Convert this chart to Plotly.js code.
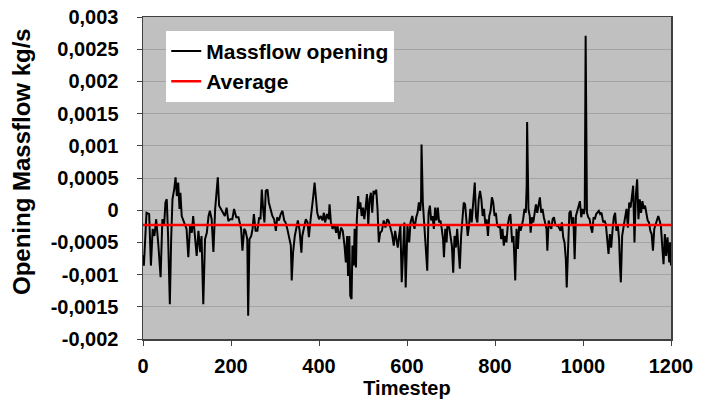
<!DOCTYPE html>
<html>
<head>
<meta charset="utf-8">
<script src="https://cdn.plot.ly/plotly-3.0.1.min.js"></script>
<style>
  html, body { margin: 0; padding: 0; background: #ffffff; }
  #chart { width: 712px; height: 402px; }
</style>
</head>
<body>
<div id="chart"></div>
<script>
// Timestep of each vertex
const timesteps = [
  0, 2, 8, 14, 18, 22, 26, 30, 35, 40, 44, 48, 51, 54, 57, 61, 64, 67, 71, 74,
  77, 80, 83, 85, 88, 92, 96, 99, 103, 107, 111, 114, 118, 122, 126, 130, 133, 137, 141, 145,
  149, 152, 156, 160, 164, 167, 170, 173, 177, 183, 186, 190, 194, 198, 203, 207, 212, 217, 220, 223,
  226, 230, 233, 237, 239, 242, 246, 249, 252, 256, 260, 264, 267, 270, 273, 276, 279, 283, 286, 290,
  294, 298, 302, 305, 309, 313, 317, 321, 324, 328, 332, 336, 338, 341, 345, 349, 352, 356, 360, 362,
  366, 370, 374, 377, 381, 385, 387, 390, 393, 396, 400, 404, 408, 411, 414, 418, 422, 424, 427, 431,
  435, 439, 442, 446, 450, 454, 458, 461, 464, 466, 469, 471, 474, 476, 479, 481, 484, 486, 489, 491,
  494, 497, 500, 503, 506, 509, 512, 515, 518, 521, 524, 528, 530, 533, 536, 539, 543, 547, 551, 555,
  558, 562, 566, 570, 573, 576, 579, 582, 585, 588, 591, 594, 597, 601, 605, 608, 612, 617, 621, 624,
  627, 630, 632, 633, 636, 639, 642, 646, 649, 652, 655, 658, 661, 664, 667, 670, 673, 676, 679, 682,
  684, 687, 690, 692, 696, 699, 702, 705, 708, 711, 714, 717, 720, 723, 726, 729, 732, 735, 738, 741,
  744, 747, 750, 754, 757, 760, 763, 766, 769, 772, 775, 778, 781, 784, 787, 790, 793, 796, 799, 802,
  805, 809, 811, 814, 817, 820, 823, 826, 829, 832, 835, 837, 839, 842, 846, 849, 852, 855, 858, 861,
  864, 867, 870, 872, 873, 876, 879, 881, 884, 887, 890, 893, 896, 899, 902, 905, 908, 911, 914, 917,
  919, 922, 925, 928, 931, 934, 937, 940, 943, 946, 949, 952, 955, 958, 961, 963, 966, 969, 972, 975,
  978, 981, 984, 987, 990, 993, 996, 999, 1002, 1004, 1006, 1007, 1009, 1012, 1015, 1018, 1021, 1024, 1027, 1030,
  1033, 1036, 1039, 1042, 1046, 1049, 1052, 1055, 1058, 1061, 1064, 1067, 1070, 1073, 1076, 1079, 1082, 1084, 1086, 1089,
  1092, 1095, 1099, 1102, 1105, 1108, 1111, 1114, 1117, 1120, 1123, 1126, 1129, 1132, 1135, 1138, 1141, 1144, 1147, 1150,
  1153, 1156, 1159, 1162, 1165, 1168, 1171, 1174, 1177, 1180, 1183, 1186, 1189, 1192, 1196, 1198, 1200
];

// Massflow opening (kg/s) at each vertex
const massflow = [
  -0.00070, -0.00086, -0.00004, -0.00006, -0.00086, -0.00029, -0.00040, -0.00014, -0.00055, -0.00104,
  -0.00014, -0.00024, 0.00012, 0.00017, -0.00040, -0.00146, -0.00045, 0.00017, 0.00033, 0.00051,
  0.00022, 0.00043, 0.00002, 0.00027, -0.00009, -0.00017, -0.00024, -0.00029, -0.00073, -0.00024,
  -0.00035, -0.00009, -0.00040, -0.00071, -0.00032, -0.00065, -0.00040, -0.00146, -0.00045, -0.00035,
  -0.00009, -0.00001, -0.00014, -0.00065, 0.00002, 0.00027, 0.00051, 0.00007, 0.00002, -0.00006,
  -0.00009, 0.00004, -0.00017, -0.00014, -0.00014, 0.00002, -0.00011, -0.00011, -0.00022, -0.00029,
  -0.00063, -0.00029, -0.00032, -0.00045, -0.00164, -0.00045, -0.00040, -0.00029, -0.00006, -0.00032,
  -0.00032, -0.00011, -0.00014, 0.00032, 0.00002, -0.00019, 0.00030, 0.00032, 0.00012, 0.00002,
  -0.00009, -0.00014, -0.00032, -0.00011, -0.00016, -0.00006, -0.00001, -0.00016, -0.00019, -0.00029,
  -0.00040, -0.00055, -0.00109, -0.00066, -0.00040, -0.00024, -0.00016, -0.00032, -0.00066, -0.00040,
  -0.00024, -0.00014, -0.00019, -0.00042, -0.00014, 0.00007, 0.00022, 0.00043, 0.00012, -0.00004,
  -0.00014, -0.00009, -0.00016, -0.00004, -0.00019, -0.00006, -0.00014, 0.00009, -0.00019, -0.00029,
  -0.00022, -0.00035, -0.00024, -0.00045, -0.00027, -0.00032, -0.00055, -0.00081, -0.00040, -0.00102,
  -0.00040, -0.00133, -0.00138, -0.00055, -0.00086, -0.00029, -0.00089, -0.00014, 0.00022, 0.00002,
  0.00012, -0.00009, 0.00004, -0.00014, 0.00004, 0.00025, -0.00022, 0.00017, 0.00027, -0.00004,
  0.00030, 0.00025, 0.00032, 0.00002, -0.00050, -0.00035, -0.00032, -0.00016, -0.00027, -0.00014,
  -0.00016, -0.00027, -0.00037, -0.00055, -0.00032, -0.00045, -0.00058, -0.00040, -0.00024, -0.00112,
  -0.00050, -0.00019, -0.00120, -0.00024, -0.00050, -0.00019, -0.00009, -0.00029, -0.00011, -0.00004,
  0.00012, -0.00001, 0.00017, 0.00102, 0.00012, -0.00019, -0.00040, -0.00094, -0.00004, 0.00007,
  -0.00016, -0.00009, -0.00029, 0.00004, -0.00016, 0.00004, -0.00019, -0.00016, -0.00029, -0.00045,
  -0.00073, -0.00029, -0.00050, -0.00022, -0.00027, -0.00042, -0.00055, -0.00097, -0.00040, -0.00058,
  -0.00029, -0.00060, -0.00091, -0.00040, -0.00014, 0.00012, 0.00009, -0.00011, -0.00040, -0.00024,
  0.00002, -0.00019, 0.00004, 0.00043, -0.00011, -0.00019, 0.00017, 0.00030, 0.00017, -0.00009,
  0.00002, -0.00022, -0.00014, -0.00040, -0.00009, -0.00001, 0.00020, 0.00012, -0.00009, -0.00004,
  -0.00024, -0.00027, -0.00022, -0.00045, -0.00029, -0.00055, -0.00040, -0.00050, -0.00024, -0.00011,
  -0.00006, -0.00024, -0.00050, -0.00040, -0.00109, -0.00029, -0.00060, -0.00024, -0.00032, -0.00024,
  -0.00014, 0.00002, -0.00004, 0.00038, 0.00137, 0.00002, -0.00009, -0.00035, -0.00011, -0.00019,
  -0.00006, 0.00009, -0.00004, 0.00007, 0.00020, -0.00004, 0.00002, -0.00011, -0.00019, -0.00029,
  -0.00063, -0.00016, -0.00024, -0.00029, -0.00014, -0.00011, -0.00022, -0.00024, -0.00024, -0.00027,
  -0.00032, -0.00019, -0.00042, -0.00050, -0.00076, -0.00120, -0.00040, -0.00004, -0.00001, -0.00024,
  -0.00011, -0.00076, -0.00009, -0.00001, 0.00009, 0.00014, -0.00011, 0.00002, -0.00006, 0.00002,
  0.00271, 0.00180, -0.00004, -0.00011, -0.00014, -0.00027, -0.00035, -0.00011, -0.00014, -0.00006,
  -0.00004, -0.00001, -0.00006, -0.00004, -0.00019, -0.00016, -0.00022, -0.00045, -0.00068, -0.00037,
  -0.00058, -0.00032, -0.00011, -0.00004, -0.00032, -0.00022, -0.00045, -0.00086, -0.00112, -0.00040,
  -0.00024, -0.00014, 0.00002, -0.00027, 0.00012, 0.00004, 0.00020, 0.00038, -0.00050, 0.00022,
  0.00048, -0.00014, 0.00017, -0.00004, 0.00014, 0.00002, 0.00007, -0.00006, -0.00016, -0.00019,
  -0.00032, -0.00037, -0.00063, -0.00029, -0.00022, -0.00016, -0.00009, -0.00016, -0.00024, -0.00055,
  -0.00084, -0.00037, -0.00071, -0.00042, -0.00081, -0.00050, -0.00086
];

// Average value (red line)
const averageValue = -0.00023;
const averageRange = [0, 1200];

// Tick labels
const xTickVals = [0, 200, 400, 600, 800, 1000, 1200];
const xTickText = ['0', '200', '400', '600', '800', '1000', '1200'];
const yTickVals = [-0.002, -0.0015, -0.001, -0.0005, 0, 0.0005, 0.001, 0.0015, 0.002, 0.0025, 0.003];
const yTickText = ['-0,002', '-0,0015', '-0,001', '-0,0005', '0', '0,0005', '0,001', '0,0015', '0,002', '0,0025', '0,003'];

const seriesNames = ['Massflow opening', 'Average'];
const xTitle = 'Timestep';
const yTitle = 'Opening Massflow kg/s';

const FONT = '"Liberation Sans", Arial, sans-serif';

const traces = [
  {
    type: 'scatter', mode: 'lines', name: seriesNames[0],
    x: timesteps, y: massflow,
    line: { color: '#000000', width: 2 }
  },
  {
    type: 'scatter', mode: 'lines', name: seriesNames[1],
    x: averageRange, y: averageRange.map(() => averageValue),
    line: { color: '#ff0000', width: 2.5 }
  }
];

const layout = {
  width: 712, height: 402,
  margin: { l: 143, r: 41, t: 17, b: 63 },
  paper_bgcolor: '#ffffff',
  plot_bgcolor: '#c0c0c0',
  font: { family: FONT, color: '#000000' },
  showlegend: true,
  legend: {
    x: 0.044, y: 0.957, xanchor: 'left', yanchor: 'top',
    bgcolor: '#ffffff', borderwidth: 0,
    font: { family: FONT, size: 21, color: '#000000', weight: 'bold' },
    traceorder: 'normal', itemwidth: 30
  },
  xaxis: {
    range: [0, 1200], tickvals: xTickVals, ticktext: xTickText,
    ticks: 'outside', ticklen: 5, tickcolor: '#404040', ticklabelstandoff: 3,
    showline: true, linecolor: '#404040', linewidth: 1.5, mirror: true,
    showgrid: false, zeroline: false,
    tickfont: { family: FONT, size: 20, weight: 'bold' },
    title: { text: xTitle, font: { family: FONT, size: 20, weight: 'bold' }, standoff: 2 }
  },
  yaxis: {
    range: [-0.002, 0.003], tickvals: yTickVals, ticktext: yTickText,
    ticks: 'outside', ticklen: 5, tickcolor: '#404040', ticklabelstandoff: 14,
    showline: true, linecolor: '#404040', linewidth: 1.5, mirror: true,
    showgrid: true, gridcolor: '#a4a4a4', gridwidth: 1, zeroline: false,
    tickfont: { family: FONT, size: 20, weight: 'bold' }
  },
  annotations: [{
    text: yTitle, textangle: -90, showarrow: false,
    xref: 'paper', yref: 'paper', x: -0.229, y: 0.55,
    xanchor: 'center', yanchor: 'middle',
    font: { family: FONT, size: 24, weight: 'bold', color: '#000000' }
  }]
};

Plotly.newPlot('chart', traces, layout, { displayModeBar: false, staticPlot: true });
</script>
</body>
</html>
